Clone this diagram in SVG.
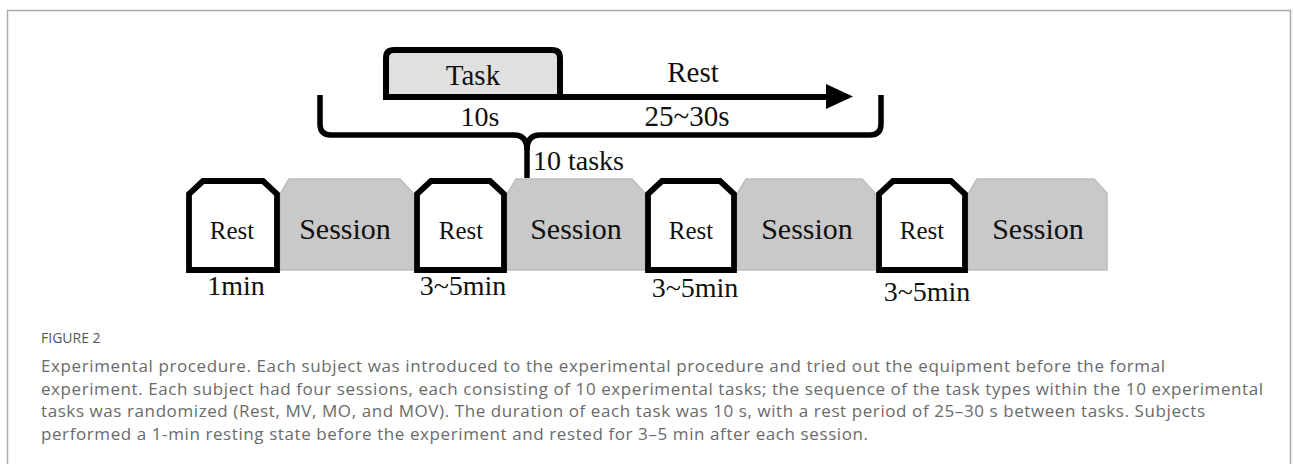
<svg xmlns="http://www.w3.org/2000/svg" width="1293" height="464" viewBox="0 0 1293 464">
<style>
.serif{font-family:"Liberation Serif","Times New Roman",serif;fill:#111;}
.rest{fill:#fff;stroke:#000;stroke-width:5.8;stroke-linejoin:miter;}
.sess{fill:#c9c9c9;stroke:#bdbdbd;stroke-width:1.5;}
.cap{font-family:"Open Sans","Noto Sans",sans-serif;fill:#6a6a6a;font-size:17px;}
</style>
<rect x="7.5" y="10.5" width="1283" height="470" fill="#fff" stroke="#aaa" stroke-width="1.5"/>

<g id="connectors">
  <path d="M386,98 L386,58 Q386,50 394,50 L552,50 Q560,50 560,58 L560,98" fill="#e0e0e0" stroke="#000" stroke-width="6"/>
  <line x1="383" y1="97" x2="830" y2="97" stroke="#000" stroke-width="6"/>
  <polygon points="826,84 853,96.5 826,109" fill="#000"/>
  <path d="M320,95 L320,124 Q320,135 331,135 L514,135 Q527,135 527,150 L527,178" fill="none" stroke="#000" stroke-width="5.5"/>
  <path d="M881,95 L881,124 Q881,135 870,135 L540,135 Q527,135 527,150" fill="none" stroke="#000" stroke-width="5.5"/>
</g>

<g id="timeline-labels">
  <text class="serif" x="473" y="85" font-size="29" text-anchor="middle">Task</text>
  <text class="serif" x="693" y="82" font-size="29" text-anchor="middle">Rest</text>
  <text class="serif" x="480" y="126" font-size="28" text-anchor="middle">10s</text>
  <text class="serif" x="687" y="126" font-size="29" text-anchor="middle">25~30s</text>
  <text class="serif" x="533" y="170" font-size="28">10 tasks</text>
</g>

<g id="session1">
  <polygon class="sess" points="280,194 289,179 400,179 413,193 413,270 280,270"/>
  <text class="serif" x="345" y="239" font-size="30" text-anchor="middle">Session</text>
</g>
<g id="session2">
  <polygon class="sess" points="507,194 516,179 632,179 645,193 645,270 507,270"/>
  <text class="serif" x="576" y="239" font-size="30" text-anchor="middle">Session</text>
</g>
<g id="session3">
  <polygon class="sess" points="737,194 746,179 862,179 875,193 875,270 737,270"/>
  <text class="serif" x="807" y="239" font-size="30" text-anchor="middle">Session</text>
</g>
<g id="session4">
  <polygon class="sess" points="968,194 977,179 1094,179 1107,193 1107,270 968,270"/>
  <text class="serif" x="1038" y="239" font-size="30" text-anchor="middle">Session</text>
</g>

<g id="rest1">
  <polygon class="rest" points="189,270 189,194 203,181 263,181 277,194 277,270"/>
  <text class="serif" x="232" y="239" font-size="25" text-anchor="middle">Rest</text>
  <text class="serif" x="236" y="295" font-size="28" text-anchor="middle">1min</text>
</g>
<g id="rest2">
  <polygon class="rest" points="417,270 417,194 431,181 490,181 504,194 504,270"/>
  <text class="serif" x="461" y="239" font-size="25" text-anchor="middle">Rest</text>
  <text class="serif" x="463" y="295" font-size="28" text-anchor="middle">3~5min</text>
</g>
<g id="rest3">
  <polygon class="rest" points="648,270 648,194 662,181 720,181 734,194 734,270"/>
  <text class="serif" x="691" y="239" font-size="25" text-anchor="middle">Rest</text>
  <text class="serif" x="695" y="297" font-size="28" text-anchor="middle">3~5min</text>
</g>
<g id="rest4">
  <polygon class="rest" points="879,270 879,194 893,181 951,181 965,194 965,270"/>
  <text class="serif" x="922" y="239" font-size="25" text-anchor="middle">Rest</text>
  <text class="serif" x="927" y="301" font-size="28" text-anchor="middle">3~5min</text>
</g>

<g id="caption">
  <text x="41" y="343" font-family="'Open Sans','Noto Sans',sans-serif" font-size="14" fill="#555">FIGURE 2</text>
  <text class="cap" x="41" y="372" textLength="1124" lengthAdjust="spacing">Experimental procedure. Each subject was introduced to the experimental procedure and tried out the equipment before the formal</text>
  <text class="cap" x="41" y="394.5" textLength="1222" lengthAdjust="spacing">experiment. Each subject had four sessions, each consisting of 10 experimental tasks; the sequence of the task types within the 10 experimental</text>
  <text class="cap" x="41" y="417" textLength="1164" lengthAdjust="spacing">tasks was randomized (Rest, MV, MO, and MOV). The duration of each task was 10 s, with a rest period of 25–30 s between tasks. Subjects</text>
  <text class="cap" x="41" y="439.5" textLength="827" lengthAdjust="spacing">performed a 1-min resting state before the experiment and rested for 3–5 min after each session.</text>
</g>
</svg>
